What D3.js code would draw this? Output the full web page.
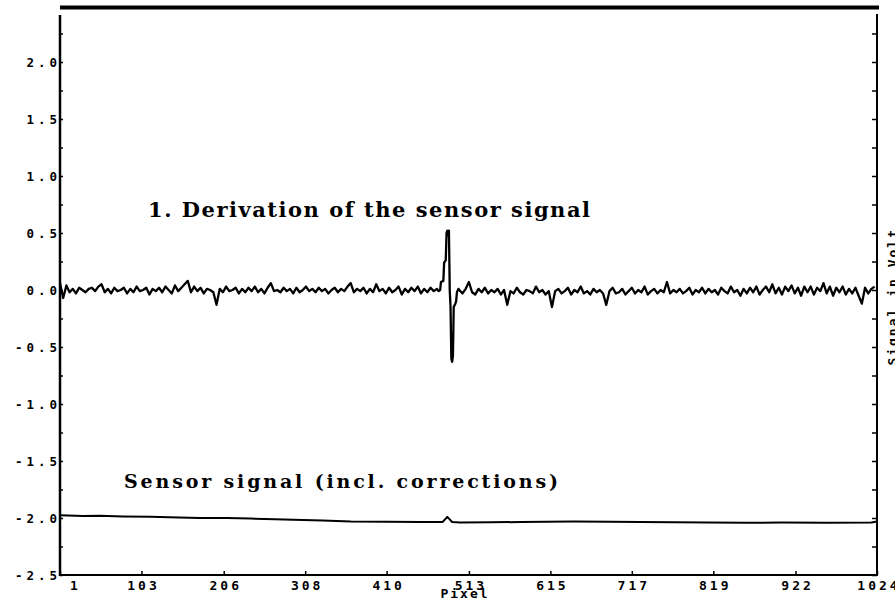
<!DOCTYPE html>
<html>
<head>
<meta charset="utf-8">
<script src="https://cdn.jsdelivr.net/npm/d3@7"></script>
<style>
body { margin: 0; background: #fff; }
svg { display: block; }
.axis text { font-family: "DejaVu Sans Mono", monospace; font-weight: bold; fill: #000; }
.axis line { stroke: #000; stroke-width: 1.5; }
.note { font-family: "DejaVu Serif", serif; font-weight: bold; fill: #000; }
</style>
</head>
<body>
<div id="chart"></div>
<script>
// x axis ticks (pixel number) and y axis ticks (volt)
var pixelTicks = [1, 103, 206, 308, 410, 513, 615, 717, 819, 922, 1024];
var voltTicks = [-2.5, -2.0, -1.5, -1.0, -0.5, 0.0, 0.5, 1.0, 1.5, 2.0];

// 1. derivation, sampled every 4 pixels, left of the edge (pixel 1..473)
var derivStep = 4;
var derivLeftStart = 1;
var derivLeft = [
  0.06, -0.07, 0.04, -0.02, 0.01, -0.03, 0.02, 0.00, -0.02, 0.01,
  0.02, -0.01, 0.03, 0.05, -0.02, 0.01, -0.03, 0.02, -0.01, 0.00,
  0.02, -0.03, 0.01, -0.02, 0.03, -0.01, 0.00, 0.02, -0.04, 0.01,
  -0.01, 0.02, -0.02, 0.03, 0.00, -0.03, 0.04, -0.01, 0.02, 0.05,
  0.08, -0.02, 0.03, -0.01, 0.02, -0.03, 0.01, 0.00, -0.02, -0.13,
  0.01, -0.02, 0.03, -0.01, 0.00, 0.02, -0.03, 0.01, -0.02, 0.02,
  -0.01, 0.03, -0.02, 0.01, -0.03, 0.02, 0.06, -0.01, 0.00, -0.02,
  0.02, -0.01, 0.01, -0.03, 0.02, -0.02, 0.00, 0.03, -0.01, 0.01,
  -0.02, 0.02, -0.01, 0.01, -0.03, 0.00, 0.02, -0.02, 0.01, -0.01,
  0.03, 0.06, -0.02, 0.01, -0.01, 0.02, -0.03, 0.01, -0.02, 0.05,
  -0.01, 0.01, -0.03, 0.02, -0.02, 0.00, 0.03, -0.04, 0.01, -0.02,
  0.02, -0.01, 0.03, -0.03, 0.01, -0.02, 0.02, -0.01, 0.01
];

// the edge itself, read pixel by pixel
var spikePixels = [475, 477, 478, 481, 482, 484, 485, 486, 487, 488, 489, 490, 491, 492, 493, 494, 496, 497, 498, 500];
var spikeValues = [-0.01, 0.00, 0.07, 0.08, 0.24, 0.26, 0.50, 0.52, 0.48, 0.52, 0.00, -0.15, -0.60, -0.63, -0.58, -0.15, -0.12, -0.10, -0.02, 0.01];

// right of the edge (pixel 501..1021)
var derivRightStart = 501;
var derivRight = [
  0.00, -0.03, 0.01, 0.07, -0.02, -0.04, 0.01, -0.02, 0.02, -0.03,
  0.00, -0.02, 0.01, -0.04, 0.00, -0.13, -0.01, -0.03, 0.02, -0.02,
  -0.04, 0.00, -0.01, -0.03, 0.03, -0.02, 0.00, -0.04, -0.01, -0.15,
  -0.01, 0.01, -0.03, -0.01, 0.02, -0.04, 0.00, -0.02, 0.03, -0.03,
  -0.01, -0.04, 0.01, -0.02, 0.00, -0.03, -0.13, -0.01, 0.02, -0.03,
  -0.02, 0.01, -0.04, -0.01, 0.02, -0.03, 0.00, -0.02, 0.03, -0.04,
  -0.01, 0.01, -0.03, 0.00, -0.02, 0.07, -0.03, 0.00, -0.02, 0.01,
  -0.03, -0.01, 0.02, -0.04, 0.00, -0.02, 0.02, -0.03, 0.01, -0.02,
  0.00, -0.04, 0.02, -0.01, -0.03, 0.03, -0.02, 0.00, -0.05, 0.01,
  -0.03, 0.02, -0.02, 0.03, -0.04, 0.00, 0.03, -0.02, 0.05, -0.03,
  0.02, -0.04, 0.03, -0.01, 0.04, -0.03, 0.02, -0.05, 0.03, -0.02,
  0.03, -0.04, 0.02, -0.01, 0.06, -0.03, 0.03, -0.05, 0.02, -0.02,
  0.03, -0.04, 0.01, -0.03, 0.02, -0.05, -0.12, 0.02, -0.03, 0.01,
  0.03
];

// sensor signal (incl. corrections)
var sensorPixels = [1, 30, 51, 80, 114, 150, 176, 210, 239, 270, 293, 330, 365, 410, 452, 480, 486, 492, 502, 540, 578, 610, 644, 690, 728, 770, 812, 860, 904, 960, 1017, 1024];
var sensorValues = [-1.975, -1.982, -1.98, -1.986, -1.99, -1.995, -2.0, -2.0, -2.005, -2.01, -2.015, -2.022, -2.03, -2.033, -2.035, -2.035, -1.99, -2.035, -2.04, -2.038, -2.035, -2.033, -2.03, -2.033, -2.035, -2.038, -2.04, -2.042, -2.04, -2.042, -2.04, -2.03];

var width = 895, height = 599;

var svg = d3.select("#chart").append("svg")
    .attr("width", width)
    .attr("height", height);

var x = d3.scaleLinear().domain([1, 1024]).range([60, 877]);
var y = d3.scaleLinear().domain([-2.5, 2.5]).range([575, 5]);

var derivData = [];
derivLeft.forEach(function(v, i) { derivData.push({ p: derivLeftStart + i * derivStep, v: v }); });
spikePixels.forEach(function(p, i) { derivData.push({ p: p, v: spikeValues[i] }); });
derivRight.forEach(function(v, i) { derivData.push({ p: derivRightStart + i * derivStep, v: v }); });

var sensorData = sensorPixels.map(function(p, i) { return { p: p, v: sensorValues[i] }; });

var line = d3.line()
    .x(function(d) { return x(d.p); })
    .y(function(d) { return y(d.v); });

// left axis: ticks every 0.25, pointing inside, labels every 0.5
var yMinor = d3.range(-2.5, 2.5, 0.25);
var yLs = 4;
svg.append("g")
    .attr("class", "axis")
    .attr("transform", "translate(" + x(1) + ",0)")
    .call(d3.axisLeft(y)
        .tickValues(yMinor)
        .tickSizeInner(-3)
        .tickSizeOuter(0)
        .tickFormat(function(d) {
            var hit = voltTicks.some(function(t) { return Math.abs(t - d) < 1e-6; });
            return hit ? d.toFixed(1) : "";
        }))
    .call(function(g) { g.select(".domain").remove(); })
    .selectAll("text")
        .attr("x", -3 + yLs)
        .style("font-size", "12.5px")
        .style("letter-spacing", yLs + "px");

// right axis: ticks only, pointing inside
svg.append("g")
    .attr("class", "axis")
    .attr("transform", "translate(" + x(1024) + ",0)")
    .call(d3.axisRight(y)
        .tickValues(yMinor)
        .tickSizeInner(-5)
        .tickSizeOuter(0)
        .tickFormat(""))
    .call(function(g) { g.select(".domain").remove(); });

// bottom axis
var xLs = 3;
svg.append("g")
    .attr("class", "axis")
    .attr("transform", "translate(0," + y(-2.5) + ")")
    .call(d3.axisBottom(x)
        .tickValues(pixelTicks)
        .tickSizeInner(-4)
        .tickSizeOuter(0)
        .tickPadding(6)
        .tickFormat(function(d) { return String(d); }))
    .call(function(g) { g.select(".domain").remove(); })
    .selectAll("text")
        .attr("dx", function(d) { return d === 1 ? 15 : xLs / 2; })
        .style("font-size", "13px")
        .style("letter-spacing", xLs + "px");

// frame
svg.append("line")
    .attr("x1", x(1)).attr("x2", x(1))
    .attr("y1", 15).attr("y2", y(-2.5) + 1)
    .attr("stroke", "#000").attr("stroke-width", 2.5);
svg.append("line")
    .attr("x1", x(1) - 1).attr("x2", x(1024) + 1)
    .attr("y1", y(-2.5)).attr("y2", y(-2.5))
    .attr("stroke", "#000").attr("stroke-width", 2);
svg.append("line")
    .attr("x1", x(1024)).attr("x2", x(1024))
    .attr("y1", 14).attr("y2", y(-2.5) + 1)
    .attr("stroke", "#000").attr("stroke-width", 2);
svg.append("line")
    .attr("x1", x(1)).attr("x2", x(1024) + 2)
    .attr("y1", 7.5).attr("y2", 7.5)
    .attr("stroke", "#000").attr("stroke-width", 4);

// traces
svg.append("path")
    .datum(derivData)
    .attr("d", line)
    .attr("fill", "none")
    .attr("stroke", "#000")
    .attr("stroke-width", 2.3)
    .attr("stroke-linejoin", "round");

svg.append("path")
    .datum(sensorData)
    .attr("d", line)
    .attr("fill", "none")
    .attr("stroke", "#000")
    .attr("stroke-width", 2)
    .attr("stroke-linejoin", "round");

// annotations
svg.append("text")
    .attr("class", "note")
    .attr("x", 148).attr("y", 217)
    .attr("textLength", 442)
    .attr("lengthAdjust", "spacing")
    .style("font-size", "21px")
    .text("1. Derivation of the sensor signal");

svg.append("text")
    .attr("class", "note")
    .attr("x", 124).attr("y", 488)
    .attr("textLength", 434)
    .attr("lengthAdjust", "spacing")
    .style("font-size", "19px")
    .text("Sensor signal (incl. corrections)");

// axis titles
svg.append("text")
    .attr("x", 465).attr("y", 598)
    .attr("text-anchor", "middle")
    .style("font-family", "DejaVu Sans Mono, monospace")
    .style("font-weight", "bold")
    .style("font-size", "13px")
    .style("letter-spacing", "2px")
    .text("Pixel");

svg.append("text")
    .attr("transform", "translate(897," + y(-0.06) + ") rotate(-90)")
    .attr("text-anchor", "middle")
    .style("font-family", "DejaVu Sans Mono, monospace")
    .style("font-weight", "bold")
    .style("font-size", "13px")
    .style("letter-spacing", "2px")
    .text("Signal in Volt");
</script>
</body>
</html>
